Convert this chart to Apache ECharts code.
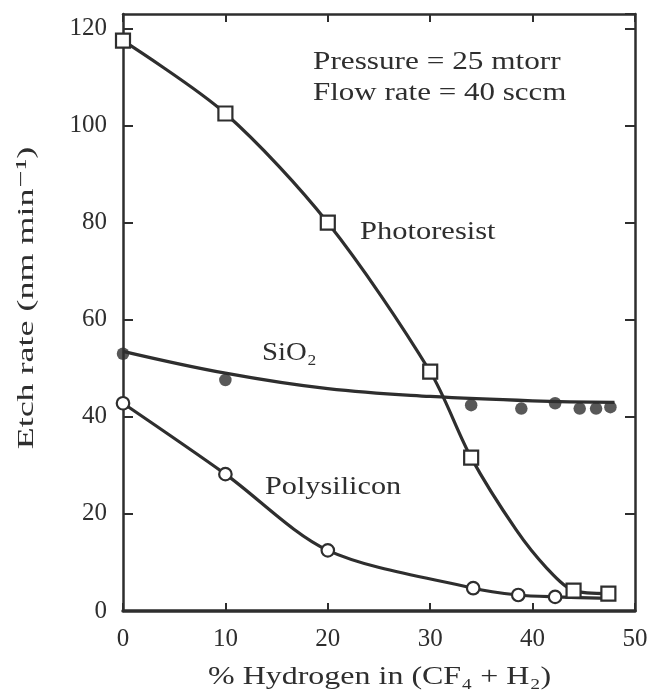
<!DOCTYPE html>
<html>
<head>
<meta charset="utf-8">
<script src="https://cdn.jsdelivr.net/npm/echarts@6/dist/echarts.min.js"></script>
<style>
  html, body { margin: 0; padding: 0; background: #fff; }
  #chart { width: 654px; height: 693px; }
</style>
</head>
<body>
<div id="chart"></div>
<script>
// values: [% H2, etch rate nm/min]
const xTicks = [0, 10, 20, 30, 40, 50];
const yTicks = [0, 20, 40, 60, 80, 100, 120];

const photoresistPoints = [[0, 117.5], [10, 102.5], [20, 80], [30, 49.3], [34, 31.6], [44, 4.2], [47.4, 3.6]];
const photoresistCurve = [[0, 117.5], [10, 102.5], [20, 80], [30, 49.3], [34, 31.6], [38.4, 16.7], [41.4, 8.8], [44, 4.2], [47.4, 3.6]];

const sio2Points = [[0, 53], [10, 47.6], [34, 42.4], [38.9, 41.7], [42.2, 42.8], [44.6, 41.7], [46.2, 41.7], [47.6, 42]];
const sio2Curve = [[0, 53.5], [10, 49], [20, 45.8], [30, 44.2], [40, 43.3], [48, 43]];

const polyPoints = [[0, 42.8], [10, 28.2], [20, 12.5], [34.2, 4.7], [38.6, 3.3], [42.2, 2.9]];
const polyCurve = [[0, 42.8], [10, 28.2], [20, 12.5], [34.2, 4.7], [38.6, 3.3], [42.2, 2.9], [47.5, 2.6]];

const ink = '#2e2e2e';
const serif = '"Liberation Serif", "DejaVu Serif", serif';

const chart = echarts.init(document.getElementById('chart'), null, { renderer: 'canvas' });

const baseX = {
  type: 'value', min: 0, max: 50, interval: 10,
  splitLine: { show: false },
  axisTick: { inside: true, length: 8, lineStyle: { color: ink, width: 2 } }
};
const baseY = {
  type: 'value', min: 0, max: 123, interval: 20,
  splitLine: { show: false },
  axisTick: { inside: true, length: 10, lineStyle: { color: ink, width: 2 } }
};

function label(text, x, y, size, sx, extra) {
  return Object.assign({
    type: 'text', x: x, y: y, scaleX: sx, z: 100,
    style: {
      text: text, font: size + 'px ' + serif, fill: ink,
      align: 'left', textAlign: 'left', verticalAlign: 'middle', textVerticalAlign: 'middle'
    }
  }, extra || {});
}

chart.setOption({
  backgroundColor: '#ffffff',
  animation: false,
  grid: { left: 123, right: 19, top: 14, bottom: 82 },
  xAxis: [
    Object.assign({}, baseX, {
      position: 'bottom',
      axisLine: { onZero: false, lineStyle: { color: ink, width: 3.5 } },
      axisLabel: {
        fontFamily: serif, fontSize: 25, color: ink, margin: 16,
        formatter: v => xTicks.includes(v) ? String(v) : ''
      }
    }),
    Object.assign({}, baseX, {
      position: 'top',
      axisLine: { onZero: false, lineStyle: { color: ink, width: 2.5 } },
      axisLabel: { show: false }
    })
  ],
  yAxis: [
    Object.assign({}, baseY, {
      position: 'left',
      axisLine: { onZero: false, lineStyle: { color: ink, width: 2.5 } },
      axisLabel: {
        fontFamily: serif, fontSize: 25, color: ink, margin: 16, showMaxLabel: false,
        formatter: v => yTicks.includes(v) ? String(v) : ''
      }
    }),
    Object.assign({}, baseY, {
      position: 'right',
      axisLine: { onZero: false, lineStyle: { color: ink, width: 2.5 } },
      axisLabel: { show: false }
    })
  ],
  series: [
    { type: 'line', data: photoresistCurve, smooth: 0.3, showSymbol: false,
      lineStyle: { color: ink, width: 3.2 }, z: 2 },
    { type: 'line', data: sio2Curve, smooth: 0.4, showSymbol: false,
      lineStyle: { color: ink, width: 3.2 }, z: 2 },
    { type: 'line', data: polyCurve, smooth: 0.3, showSymbol: false,
      lineStyle: { color: ink, width: 3.2 }, z: 2 },
    { type: 'scatter', data: sio2Points, symbol: 'circle', symbolSize: 12.5,
      itemStyle: { color: ink }, z: 3 },
    { type: 'scatter', data: polyPoints, symbol: 'circle', symbolSize: 12.5,
      itemStyle: { color: '#fff', borderColor: ink, borderWidth: 2.2, opacity: 1 }, z: 4 },
    { type: 'scatter', data: photoresistPoints, symbol: 'rect', symbolSize: 14,
      itemStyle: { color: '#fff', borderColor: ink, borderWidth: 2.2, opacity: 1 }, z: 5 }
  ],
  graphic: [
    label('Pressure = 25 mtorr', 313, 62, 25, 1.25),
    label('Flow rate = 40 sccm', 313, 93, 25, 1.24),
    label('Photoresist', 360, 232, 25, 1.22),
    label('SiO₂', 262, 353, 25, 1.15),
    label('Polysilicon', 265, 487, 25, 1.21),
    label('% Hydrogen in (CF₄ + H₂)', 208, 677, 26, 1.23),
    label('Etch rate (nm min⁻¹)', 27, 298, 24, 1.5, {
      rotation: Math.PI / 2,
      style: {
        text: 'Etch rate (nm min⁻¹)', font: '24px ' + serif, fill: ink,
        align: 'center', textAlign: 'center', verticalAlign: 'middle', textVerticalAlign: 'middle'
      }
    })
  ]
});
</script>
</body>
</html>
